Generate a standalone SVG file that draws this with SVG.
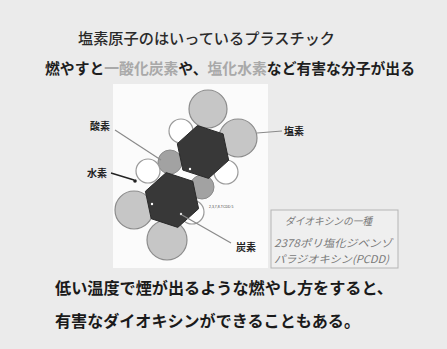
<svg xmlns="http://www.w3.org/2000/svg" width="447" height="349" viewBox="0 0 447 349">
  <style>
    .jp { font-family: "Noto Sans CJK JP", "Noto Sans CJK SC", sans-serif; }
    .head { font-size: 15px; font-weight: 700; fill: #1e1e1e; }
    .head1 { font-weight: 500; fill: #2a2a2a; }
    .hl { fill: #a9a9a9; }
    .body { font-size: 16px; font-weight: 700; fill: #1a1a1a; }
    .lbl { font-size: 10px; font-weight: 700; fill: #222; }
    .note { font-size: 10.5px; font-style: italic; fill: #7a7a7a; }
    .lead { stroke: #8a8a8a; stroke-width: 1.2; fill: none; }
    .ring { fill: #383838; stroke: #2a2a2a; stroke-width: 1; }
    .cl { fill: #c6c6c6; stroke: #8c8c8c; stroke-width: 1.2; }
    .h { fill: #ffffff; stroke: #9a9a9a; stroke-width: 1.2; }
    .o { fill: #a2a2a2; stroke: #8a8a8a; stroke-width: 1; }
  </style>

  <!-- page background -->
  <rect x="0" y="0" width="447" height="349" fill="#ebebeb"/>

  <!-- headings -->
  <g id="heading">
    <text class="jp head head1" x="78" y="44" textLength="257" lengthAdjust="spacingAndGlyphs">塩素原子のはいっているプラスチック</text>
    <text class="jp head" x="45" y="74" textLength="370" lengthAdjust="spacingAndGlyphs">燃やすと<tspan class="hl">一酸化炭素</tspan>や、<tspan class="hl">塩化水素</tspan>など有害な分子が出る</text>
  </g>

  <!-- molecule picture panel -->
  <rect x="113" y="84" width="155" height="184" fill="#fbfbfb"/>

  <g id="molecule">
    <!-- oxygen bridges -->
    <circle class="o" cx="170" cy="162" r="12"/>
    <circle class="o" cx="202" cy="187" r="12"/>
    <!-- hydrogens -->
    <circle class="h" cx="181" cy="131" r="12"/>
    <circle class="h" cx="226" cy="172" r="12"/>
    <circle class="h" cx="148" cy="171" r="12"/>
    <circle class="h" cx="192" cy="212" r="12"/>
    <!-- chlorines -->
    <circle class="cl" cx="208" cy="109" r="19"/>
    <circle class="cl" cx="238" cy="138" r="19"/>
    <circle class="cl" cx="134" cy="210" r="19"/>
    <circle class="cl" cx="167" cy="240" r="20"/>
    <!-- carbon rings -->
    <polygon class="ring" points="197.4,125.6 223.1,133.9 228.7,160.3 208.6,178.4 182.9,170.1 177.3,143.7"/>
    <polygon class="ring" points="166.2,172.6 192.8,181.3 198.6,208.7 177.8,227.4 151.2,218.7 145.4,191.3"/>
    <circle cx="190" cy="169" r="1.2" fill="#fff"/>
    <circle cx="152" cy="204" r="1.2" fill="#fff"/>
    <circle cx="181" cy="214" r="1.2" fill="#ddd"/>
    <text x="209" y="208" font-family="Liberation Sans, sans-serif" font-size="3.5" fill="#444">2,3,7,8-TCDD  5</text>
  </g>

  <!-- leader lines -->
  <g id="connectors">
    <line class="lead" x1="115" y1="130" x2="161" y2="160"/>
    <line x1="111" y1="173" x2="134" y2="180" stroke="#222" stroke-width="1.4"/>
    <circle cx="135" cy="181" r="1.8" fill="#222"/>
    <line class="lead" x1="257" y1="133" x2="282" y2="131"/>
    <line class="lead" x1="182" y1="215" x2="231" y2="243"/>
  </g>

  <g id="label-oxygen"><text class="jp lbl" x="90" y="130">酸素</text></g>
  <g id="label-hydrogen"><text class="jp lbl" x="87" y="177">水素</text></g>
  <g id="label-chlorine"><text class="jp lbl" x="284" y="135">塩素</text></g>
  <g id="label-carbon"><text class="jp lbl" x="236" y="251">炭素</text></g>

  <!-- caption box -->
  <g id="caption">
    <rect x="271" y="210" width="127" height="58" fill="#efefef" stroke="#b5b5b5" stroke-width="1"/>
    <text class="jp note" x="285" y="225" textLength="87" lengthAdjust="spacingAndGlyphs">ダイオキシンの一種</text>
    <text class="jp note" x="274" y="247" textLength="118" lengthAdjust="spacingAndGlyphs">2378ポリ塩化ジベンゾ</text>
    <text class="jp note" x="274" y="263" textLength="115" lengthAdjust="spacingAndGlyphs">パラジオキシン(PCDD)</text>
  </g>

  <!-- closing text -->
  <g id="conclusion">
    <text class="jp body" x="55" y="294" textLength="338" lengthAdjust="spacingAndGlyphs">低い温度で煙が出るような燃やし方をすると、</text>
    <text class="jp body" x="55" y="327" textLength="305" lengthAdjust="spacingAndGlyphs">有害なダイオキシンができることもある。</text>
  </g>
</svg>
